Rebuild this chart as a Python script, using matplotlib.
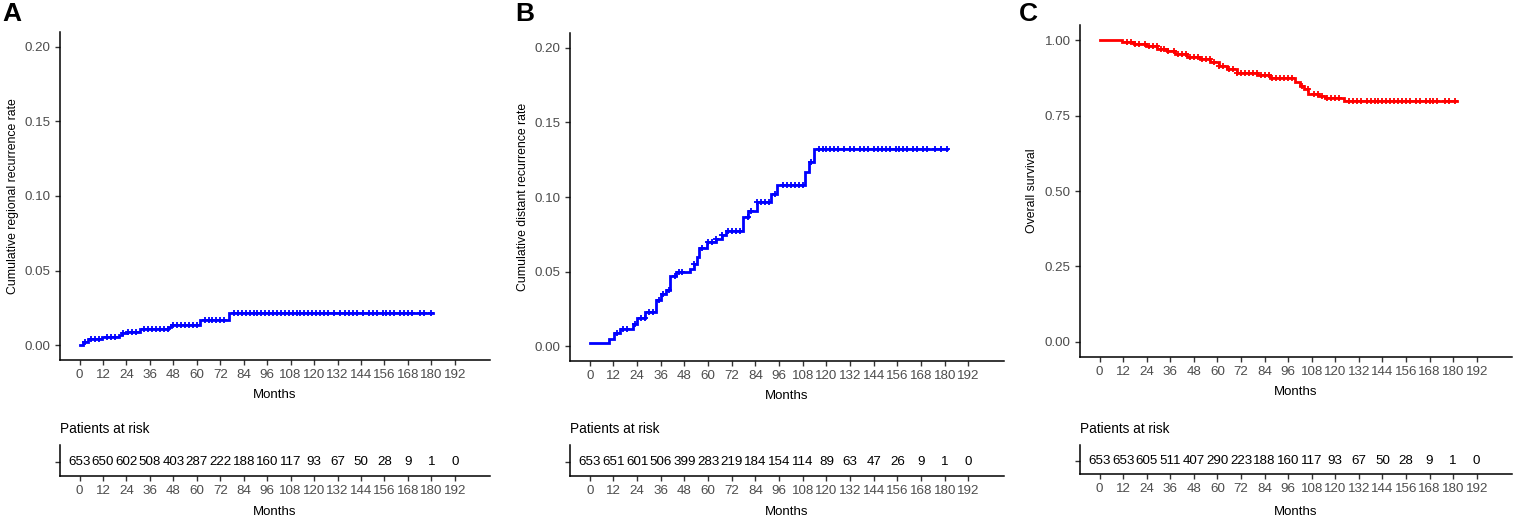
import numpy as np
import matplotlib
matplotlib.use("Agg")
import matplotlib.pyplot as plt

plt.rcParams['font.family'] = ['Liberation Sans', 'DejaVu Sans']

# ---------------- data ----------------
months_ticks = [0, 12, 24, 36, 48, 60, 72, 84, 96, 108, 120, 132, 144, 156, 168, 180, 192]

# Panel A: cumulative regional recurrence
a_times = [0, 2, 4.3, 11.5, 20, 21.5, 24.5, 31, 45.5, 47, 61.6, 76.3]
a_values = [0.0, 0.0018, 0.004, 0.0055, 0.0065, 0.0078, 0.0091, 0.0107, 0.0122, 0.0135, 0.0167, 0.0212]
a_end = 181
a_censor = [3, 6, 8, 10, 14, 16, 18, 22, 25, 27, 29, 33, 35, 37, 39, 41, 43, 45, 48, 50, 52, 54, 56,
            58, 60, 64, 66, 68, 70, 72, 74, 79, 81, 83, 85, 87, 89, 91, 93, 95, 97, 99, 101, 103, 105,
            107, 109, 111, 113, 115, 117, 119, 121, 123, 125, 127, 130, 133, 136, 138, 140, 142, 145,
            148, 150, 152, 155, 157, 159, 161, 164, 166, 168, 170, 174, 176, 180]
a_risk = [653, 650, 602, 508, 403, 287, 222, 188, 160, 117, 93, 67, 50, 28, 9, 1, 0]

# Panel B: cumulative distant recurrence
b_times = [0, 9.7, 12.3, 15.3, 22.0, 24.0, 28.2, 33.8, 36.1, 38.8, 40.5, 43.9, 50.6, 52.9, 54.3,
           55.3, 59.3, 64.0, 66.9, 68.9, 77.5, 80.3, 84.8, 92.1, 94.9, 108.9, 111.0, 113.9]
b_values = [0.002, 0.0047, 0.0087, 0.0114, 0.0148, 0.019, 0.0226, 0.031, 0.035, 0.0378, 0.047,
            0.0494, 0.052, 0.055, 0.060, 0.066, 0.0696, 0.0718, 0.0745, 0.0774, 0.0864, 0.0908,
            0.0969, 0.102, 0.108, 0.1166, 0.1233, 0.1322]
b_end = 181
b_censor = [14, 17, 19, 23, 26, 28, 30, 32, 35, 37, 40, 43, 45, 47, 53, 57, 60, 62, 64, 67, 70, 72,
            74, 76, 80, 82, 85, 87, 89, 91, 94, 98, 100, 102, 104, 106, 108, 112, 116, 118, 120, 122,
            124, 126, 129, 132, 134, 137, 139, 141, 144, 146, 148, 150, 152, 155, 157, 159, 161, 164,
            166, 169, 171, 175, 178, 181]
b_risk = [653, 651, 601, 506, 399, 283, 219, 184, 154, 114, 89, 63, 47, 26, 9, 1, 0]

# Panel C: overall survival
c_times = [0, 11.5, 17.4, 23.4, 29.3, 34.4, 38.6, 44.5, 51.3, 56.4, 60.6, 64.8, 69.9, 80.1, 86.8,
           99.5, 102.1, 104.1, 106.3, 111.4, 114.8, 124.4]
c_values = [1.0, 0.994, 0.987, 0.981, 0.972, 0.965, 0.954, 0.945, 0.936, 0.926, 0.914, 0.903, 0.892,
            0.884, 0.876, 0.862, 0.848, 0.837, 0.823, 0.816, 0.807, 0.799]
c_end = 182
c_censor = [14, 16, 18, 20, 23, 25, 27, 29, 31, 33, 35, 38, 40, 42, 44, 46, 48, 50, 52, 54, 56, 58,
            61, 63, 66, 68, 70, 72, 74, 76, 78, 80, 82, 84, 86, 88, 90, 92, 94, 96, 98, 103, 106,
            109, 111, 113, 116, 118, 120, 122, 127, 129, 131, 133, 136, 138, 140, 142, 144, 146,
            148, 150, 152, 154, 156, 158, 161, 163, 166, 168, 170, 172, 176, 178, 181]
c_risk = [653, 653, 605, 511, 407, 290, 223, 188, 160, 117, 93, 67, 50, 28, 9, 1, 0]

# ---------------- layout ----------------
W, H = 1514, 526
fig = plt.figure(figsize=(W / 100, H / 100), dpi=100)
TICK_COLOR = '#4D4D4D'


def px_axes(left, right, top, bottom):
    return fig.add_axes([left / W, 1 - bottom / H, (right - left) / W, (bottom - top) / H])


def style(ax):
    for s in ['top', 'right']:
        ax.spines[s].set_visible(False)
    for s in ['left', 'bottom']:
        ax.spines[s].set_linewidth(1.1)
        ax.spines[s].set_color('black')
    ax.tick_params(axis='both', length=3.6, width=1.0, color='#333333',
                   labelcolor=TICK_COLOR, labelsize=9.6, pad=3)


panels = [
    dict(letter='A', times=a_times, values=a_values, end=a_end, censor=a_censor, risk=a_risk,
         color='#0000FF', ylim=(-0.01, 0.21), yticks=[0, 0.05, 0.10, 0.15, 0.20],
         ylabel='Cumulative regional recurrence rate',
         main=(60, 490, 32, 360), table=(60, 490, 445, 476), ylab_x=13, letter_x=2),
    dict(letter='B', times=b_times, values=b_values, end=b_end, censor=b_censor, risk=b_risk,
         color='#0000FF', ylim=(-0.01, 0.21), yticks=[0, 0.05, 0.10, 0.15, 0.20],
         ylabel='Cumulative distant recurrence rate',
         main=(570, 1004, 33, 361), table=(570, 1004, 445, 476), ylab_x=523, letter_x=515),
    dict(letter='C', times=c_times, values=c_values, end=c_end, censor=c_censor, risk=c_risk,
         color='#FF0000', ylim=(-0.05, 1.05), yticks=[0, 0.25, 0.50, 0.75, 1.00],
         ylabel='Overall survival',
         main=(1080, 1512, 25, 357), table=(1080, 1512, 445, 474), ylab_x=1032, letter_x=1019),
]

for p in panels:
    l, r, t, b = p['main']
    ax = px_axes(l, r, t, b)
    style(ax)
    times = np.array(p['times'] + [p['end']])
    vals = np.array(p['values'] + [p['values'][-1]])
    ax.step(times, vals, where='post', color=p['color'], lw=2.0, solid_joinstyle='miter')
    cens = np.array(p['censor'])
    idx = np.searchsorted(np.array(p['times']), cens, side='right') - 1
    cy = np.array(p['values'])[idx]
    ax.plot(cens, cy, linestyle='none', marker='+', color=p['color'], ms=5, mew=1.3)
    ax.set_xlim(-10, 210)
    ax.set_ylim(*p['ylim'])
    ax.set_xticks(months_ticks)
    ax.set_yticks(p['yticks'])
    ax.set_yticklabels([f'{v:.2f}' for v in p['yticks']])
    fig.text(p['ylab_x'] / W, 1 - ((t + b) / 2) / H, p['ylabel'], rotation=90,
             ha='center', va='center', fontsize=8.8, color='black')
    fig.text(((l + r) / 2 - 0) / W, 1 - (b + 35) / H, 'Months', ha='center', va='center',
             fontsize=9.5, color='black')
    fig.text(p['letter_x'] / W, 1 - 2 / H, p['letter'], ha='left', va='top',
             fontsize=19, fontweight='bold', color='black')

    # risk table
    tl, tr, tt, tb = p['table']
    tax = px_axes(tl, tr, tt, tb)
    style(tax)
    tax.set_xlim(-10, 210)
    tax.set_ylim(-0.46, 0.54)
    tax.set_xticks(months_ticks)
    tax.set_yticks([0])
    tax.set_yticklabels([''])
    for m, n in zip(months_ticks, p['risk']):
        tax.text(m, 0, str(n), ha='center', va='center', fontsize=9.6, color='black')
    fig.text(tl / W, 1 - 429 / H, 'Patients at risk', ha='left', va='center',
             fontsize=9.8, color='black')
    fig.text((tl + tr) / 2 / W, 1 - 512 / H, 'Months', ha='center', va='center',
             fontsize=9.5, color='black')

fig.savefig('out.png', dpi=100, facecolor='white')
